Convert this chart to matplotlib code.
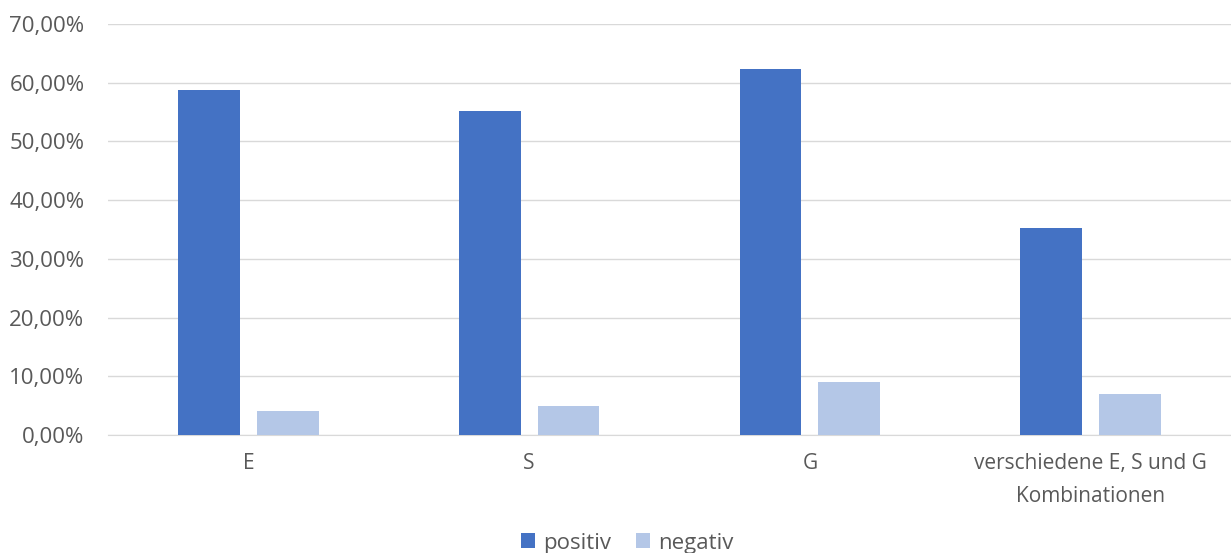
import numpy as np
import matplotlib.pyplot as plt
from matplotlib.ticker import FuncFormatter

# Daten
kategorien = ['E', 'S', 'G', 'verschiedene E, S und G\nKombinationen']
positiv = [0.588, 0.551, 0.624, 0.353]
negativ = [0.041, 0.049, 0.090, 0.070]

plt.rcParams['font.family'] = ['Open Sans', 'DejaVu Sans']
text_farbe = '#595959'

fig = plt.figure(figsize=(12.31, 5.53), dpi=100)
ax = fig.add_axes([108 / 1231, 1 - 435 / 553, 1 - 108 / 1231, (435 - 24) / 553])

x = np.arange(len(kategorien))
breite = 0.22
ax.bar(x - 0.14, positiv, breite, color='#4472C4', label='positiv', zorder=3)
ax.bar(x + 0.14, negativ, breite, color='#B4C7E7', label='negativ', zorder=3)

ax.set_xlim(-0.5, len(kategorien) - 0.5)
ax.set_ylim(0, 0.7)
ax.set_yticks(np.arange(0, 0.71, 0.1))
ax.yaxis.set_major_formatter(FuncFormatter(lambda v, p: f'{v * 100:.2f}%'.replace('.', ',')))
ax.set_xticks(x)
ax.set_xticklabels(kategorien, linespacing=1.75)

ax.grid(axis='y', color='#D9D9D9', linewidth=1, zorder=0)
for s in ['top', 'right', 'left']:
    ax.spines[s].set_visible(False)
ax.spines['bottom'].set_color('#D9D9D9')
ax.tick_params(axis='both', length=0, colors=text_farbe)
ax.tick_params(axis='x', pad=13, labelsize=15)
ax.tick_params(axis='y', pad=17, labelsize=16)

leg = fig.legend(loc='center', bbox_to_anchor=(627 / 1231, 1 - 543 / 553), ncol=2,
                 frameon=False, fontsize=16, handlelength=0.65, handleheight=0.65,
                 handletextpad=0.35, columnspacing=1.1)
for t in leg.get_texts():
    t.set_color(text_farbe)

fig.savefig('out.png', dpi=100)
